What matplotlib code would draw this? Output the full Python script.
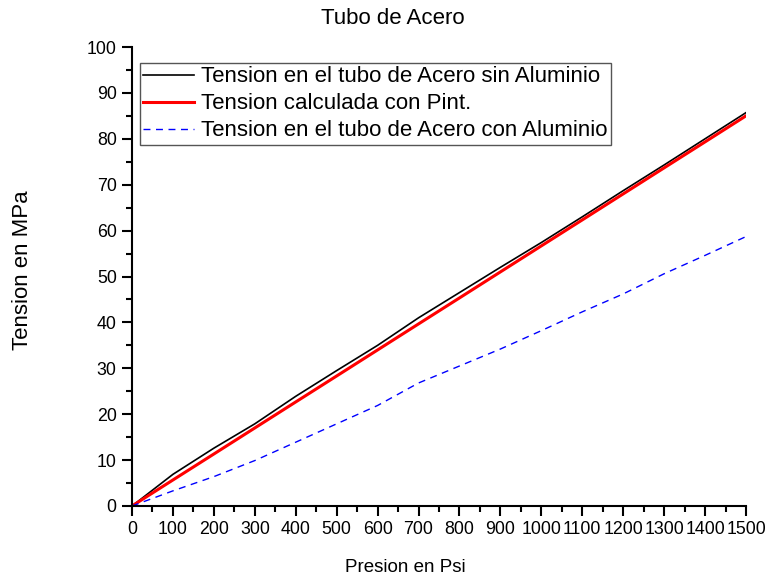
import matplotlib
matplotlib.use("Agg")
import matplotlib.pyplot as plt
from matplotlib.ticker import MultipleLocator

plt.rcParams['font.family'] = ['Liberation Sans', 'DejaVu Sans']

presion = [0, 100, 200, 300, 400, 500, 600, 700, 800, 900, 1000, 1100, 1200, 1300, 1400, 1500]
tension_sin_al = [0, 6.9, 12.6, 17.9, 23.9, 29.5, 35.0, 41.0, 46.5, 52.0, 57.4, 63.0, 68.7, 74.3, 80.0, 85.7]
tension_pint = [0, 5.67, 11.33, 17.0, 22.67, 28.33, 34.0, 39.67, 45.33, 51.0, 56.67, 62.33, 68.0, 73.67, 79.33, 85.0]
tension_con_al = [0, 3.3, 6.4, 9.9, 13.9, 17.9, 21.9, 26.8, 30.5, 34.2, 38.2, 42.3, 46.2, 50.6, 54.6, 58.7]

W, H = 768, 580
fig = plt.figure(figsize=(W / 100, H / 100), dpi=100)
ax = fig.add_axes([132 / W, 1 - 506 / H, 614 / W, 459 / H])

ax.plot(presion, tension_sin_al, color='black', lw=1.2, label='Tension en el tubo de Acero sin Aluminio')
ax.plot(presion, tension_pint, color='red', lw=2.2, label='Tension calculada con Pint.')
ax.plot(presion, tension_con_al, color='blue', lw=1.0, ls=(0, (5, 4)), label='Tension en el tubo de Acero con Aluminio')

ax.set_xlim(0, 1500)
ax.set_ylim(0, 100)
ax.xaxis.set_major_locator(MultipleLocator(100))
ax.xaxis.set_minor_locator(MultipleLocator(50))
ax.yaxis.set_major_locator(MultipleLocator(10))
ax.yaxis.set_minor_locator(MultipleLocator(5))

for s in ('top', 'right'):
    ax.spines[s].set_visible(False)
for s in ('left', 'bottom'):
    ax.spines[s].set_linewidth(1.5)

ax.tick_params(which='major', direction='out', length=7, width=1.5, labelsize=12.8, pad=4)
ax.tick_params(which='minor', direction='out', length=4, width=1.5)

# title and axis labels placed in figure pixels
fig.text(393 / W, 1 - 19 / H, 'Tubo de Acero', fontsize=16, ha='center', va='center')
fig.text(405 / W, 1 - 567 / H, 'Presion en Psi', fontsize=13.5, ha='center', va='center')
fig.text(23 / W, 1 - 270 / H, 'Tension en MPa', fontsize=16, ha='center', va='center',
         rotation=90)

leg = ax.legend(loc='upper left', bbox_to_anchor=(8 / 614, 1 - 16 / 459), fontsize=16,
                frameon=True, fancybox=False, edgecolor='#555555', framealpha=1,
                handlelength=2.3, handletextpad=0.3, borderpad=0.15,
                labelspacing=0.27, borderaxespad=0)
leg.get_frame().set_linewidth(1.0)

fig.savefig('out.png', dpi=100)
